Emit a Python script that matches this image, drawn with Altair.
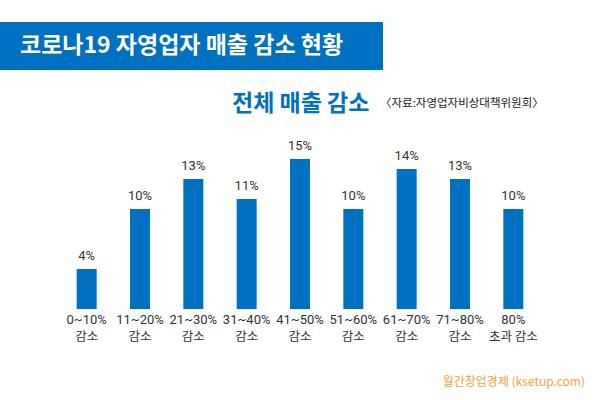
import altair as alt
import pandas as pd

range_labels = ["0~10%", "11~20%", "21~30%", "31~40%", "41~50%",
                "51~60%", "61~70%", "71~80%", "80%"]
sub_labels = ["감소", "감소", "감소", "감소", "감소", "감소", "감소", "감소", "초과 감소"]
values = [4, 10, 13, 11, 15, 10, 14, 13, 10]

title_text = "코로나19 자영업자 매출 감소 현황"
subtitle_text = "전체 매출 감소"
source_text = "〈자료:자영업자비상대책위원회〉"
footer_text = "월간창업경제 (ksetup.com)"

FONT = "Noto Sans CJK KR"
BLUE = "#0070C0"

df = pd.DataFrame({"cat": range_labels, "sub": sub_labels, "val": values,
                   "label": [f"{v}%" for v in values]})
one = pd.DataFrame({"a": [0]})

xenc = alt.X("cat:N", sort=range_labels, title=None,
             scale=alt.Scale(paddingInner=0.625, paddingOuter=0.3125), axis=None)
yenc = alt.Y("val:Q", scale=alt.Scale(domain=[0, 15], nice=False, zero=True), axis=None)

bars = alt.Chart(df).mark_bar(color=BLUE).encode(x=xenc, y=yenc)
labels = alt.Chart(df).mark_text(font="Roboto", fontSize=13, color="#333333",
                                 baseline="alphabetic", dy=-9).encode(
    x=alt.X("cat:N", sort=range_labels), y="val:Q", text="label:N")
xline1 = alt.Chart(df).mark_text(font="Roboto", fontSize=13, color="#333333",
                                 baseline="middle").encode(
    x=alt.X("cat:N", sort=range_labels), y=alt.value(161), text="cat:N")
xline2 = alt.Chart(df).mark_text(font=FONT, fontSize=12.5, color="#333333",
                                 baseline="middle").encode(
    x=alt.X("cat:N", sort=range_labels), y=alt.value(178), text="sub:N")

banner = alt.Chart(one).mark_rect(color=BLUE).encode(
    x=alt.value(-60), x2=alt.value(323), y=alt.value(-137), y2=alt.value(-89))
title = alt.Chart(one).mark_text(text=title_text, font=FONT, fontSize=23, fontWeight="bold",
                                 color="white", align="left", baseline="middle").encode(
    x=alt.value(-40), y=alt.value(-113))
subtitle = alt.Chart(one).mark_text(text=subtitle_text, font=FONT, fontSize=23, fontWeight="bold",
                                    color=BLUE, align="left", baseline="middle").encode(
    x=alt.value(172), y=alt.value(-55))
source = alt.Chart(one).mark_text(text=source_text, font=FONT, fontSize=11.5,
                                  color="#222222", align="left", baseline="middle").encode(
    x=alt.value(320), y=alt.value(-55))
footer = alt.Chart(one).mark_text(text=footer_text, font=FONT, fontSize=12,
                                  color="#F5A040", align="right", baseline="middle").encode(
    x=alt.value(525), y=alt.value(223))

chart = alt.layer(bars, labels, xline1, xline2, banner, title, subtitle, source, footer).properties(
    width=480, height=150,
    background="white",
    autosize=alt.AutoSizeParams(type="none"),
    padding={"left": 60, "top": 159, "right": 60, "bottom": 91},
).configure_view(strokeWidth=0, stroke=None)

chart.save("out.html", embed_options={"renderer": "svg", "actions": False})
